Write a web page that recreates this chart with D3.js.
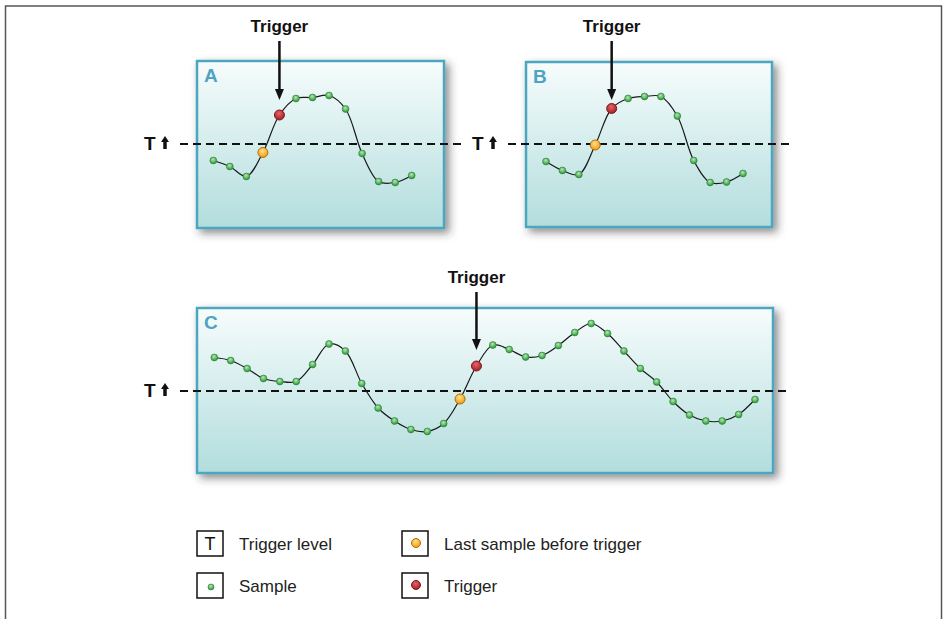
<!DOCTYPE html>
<html>
<head>
<meta charset="utf-8">
<script src="https://cdn.jsdelivr.net/npm/d3@7"></script>
<style>
  body { margin: 0; background: #fff; }
  svg { display: block; font-family: "Liberation Sans", Arial, sans-serif; }
</style>
</head>
<body>
<div id="chart"></div>
<script>
// sampled signal values (trigger level = 0), one value per sample
const samplesA = [-0.33, -0.45, -0.65, -0.17, 0.58, 0.91, 0.93, 0.97, 0.70, -0.19, -0.75, -0.77, -0.63];
const samplesB = [-0.35, -0.53, -0.61, -0.02, 0.71, 0.91, 0.95, 0.95, 0.56, -0.33, -0.77, -0.76, -0.59];
const samplesC = [0.67, 0.61, 0.45, 0.25, 0.19, 0.19, 0.53, 0.94, 0.80, 0.15, -0.34, -0.60, -0.77, -0.81,
                  -0.65, -0.16, 0.50, 0.92, 0.83, 0.68, 0.71, 0.91, 1.17, 1.35, 1.15, 0.80, 0.45, 0.18,
                  -0.21, -0.48, -0.60, -0.60, -0.47, -0.17];
// index of the last sample before trigger (next one is the trigger sample)
const lastBefore = {A: 3, B: 3, C: 15};
const triggerLevel = 0;
const legendItems = [
  {key: "level", label: "Trigger level"},
  {key: "last", label: "Last sample before trigger"},
  {key: "sample", label: "Sample"},
  {key: "trigger", label: "Trigger"}
];

// layout
const width = 944, height = 619;
const panels = [
  {name: "A", data: samplesA, box: [197, 61, 444, 228], first: 213.3, last: 411.7, trig: 144, line: [180, 462], textY: 32, arrow: [41, 100]},
  {name: "B", data: samplesB, box: [526, 62, 772, 227], first: 546, last: 743, trig: 144, line: [508, 790], textY: 32, arrow: [41, 100]},
  {name: "C", data: samplesC, box: [197, 308, 773, 473], first: 214.3, last: 755, trig: 391, line: [180, 790], textY: 283, arrow: [292, 350]}
];
const unitPx = 50;

const svg = d3.select("#chart").append("svg")
    .attr("width", width)
    .attr("height", height);

const defs = svg.append("defs");

const bg = defs.append("linearGradient").attr("id", "boxFill")
    .attr("x1", 0).attr("y1", 0).attr("x2", 0).attr("y2", 1);
bg.append("stop").attr("offset", "0%").attr("stop-color", "#f7fcfc");
bg.append("stop").attr("offset", "100%").attr("stop-color", "#b2dddd");

const shadow = defs.append("filter").attr("id", "shadow")
    .attr("x", "-10%").attr("y", "-10%").attr("width", "125%").attr("height", "130%");
shadow.append("feDropShadow")
    .attr("dx", 4).attr("dy", 4).attr("stdDeviation", 4)
    .attr("flood-color", "#333").attr("flood-opacity", 0.55);

function dotGradient(id, light, dark) {
  const g = defs.append("radialGradient").attr("id", id)
      .attr("cx", "45%").attr("cy", "35%").attr("r", "60%");
  g.append("stop").attr("offset", "0%").attr("stop-color", light);
  g.append("stop").attr("offset", "100%").attr("stop-color", dark);
}
dotGradient("gSample", "#b8e6b8", "#2f9a3c");
dotGradient("gTrigger", "#e5646a", "#a8222a");
dotGradient("gLast", "#ffe08a", "#f0a01c");

const dotStyle = {
  sample: {r: 3.4, fill: "url(#gSample)", stroke: "#2e8a38", sw: 0.7},
  trigger: {r: 5, fill: "url(#gTrigger)", stroke: "#7d1a1f", sw: 1},
  last: {r: 5, fill: "url(#gLast)", stroke: "#b56d00", sw: 1}
};

// outer frame
svg.append("rect")
    .attr("x", 5.5).attr("y", 6)
    .attr("width", 936).attr("height", 640)
    .attr("fill", "none")
    .attr("stroke", "#555")
    .attr("stroke-width", 1.5);

function arrowUp(g, x, yTop, yBottom, headW, headH, sw) {
  g.append("line")
      .attr("x1", x).attr("x2", x)
      .attr("y1", yTop + headH - 1).attr("y2", yBottom)
      .attr("stroke", "#111").attr("stroke-width", sw);
  g.append("path")
      .attr("d", `M${x - headW / 2},${yTop + headH} L${x},${yTop} L${x + headW / 2},${yTop + headH} Z`)
      .attr("fill", "#111");
}

panels.forEach(function(p) {
  const g = svg.append("g").attr("class", "panel");

  const xScale = d3.scaleLinear().domain([0, p.data.length - 1]).range([p.first, p.last]);
  const yScale = d3.scaleLinear().domain([-1, 1]).range([p.trig + unitPx, p.trig - unitPx]);

  // box
  g.append("rect")
      .attr("x", p.box[0]).attr("y", p.box[1])
      .attr("width", p.box[2] - p.box[0]).attr("height", p.box[3] - p.box[1])
      .attr("fill", "url(#boxFill)")
      .attr("stroke", "#4ea6c0")
      .attr("stroke-width", 2.5)
      .attr("filter", "url(#shadow)");

  g.append("text")
      .attr("x", p.box[0] + 7).attr("y", p.box[1] + 21)
      .attr("font-size", 19).attr("font-weight", "bold")
      .attr("fill", "#4ea3c2")
      .text(p.name);

  // trigger level
  const ty = yScale(triggerLevel);
  g.append("line")
      .attr("x1", p.line[0]).attr("x2", p.line[1])
      .attr("y1", ty).attr("y2", ty)
      .attr("stroke", "#111").attr("stroke-width", 2)
      .attr("stroke-dasharray", "8,5");

  const lx = p.line[0] - 36;
  g.append("text")
      .attr("x", lx).attr("y", ty + 6)
      .attr("font-size", 19).attr("font-weight", "bold")
      .attr("fill", "#111")
      .text("T");
  arrowUp(g, lx + 21, ty - 8, ty + 5, 8, 6, 3.5);

  // waveform
  const line = d3.line()
      .x(function(d, i) { return xScale(i); })
      .y(function(d) { return yScale(d); })
      .curve(d3.curveCatmullRom.alpha(0.5));

  g.append("path")
      .datum(p.data)
      .attr("d", line)
      .attr("fill", "none")
      .attr("stroke", "#1a1a1a")
      .attr("stroke-width", 1.2);

  const lb = lastBefore[p.name];
  g.selectAll(".dot").data(p.data).enter()
    .append("circle")
      .attr("class", "dot")
      .each(function(d, i) {
        const s = i === lb ? dotStyle.last : (i === lb + 1 ? dotStyle.trigger : dotStyle.sample);
        d3.select(this)
            .attr("r", s.r)
            .attr("fill", s.fill)
            .attr("stroke", s.stroke)
            .attr("stroke-width", s.sw);
      })
      .attr("cx", function(d, i) { return xScale(i); })
      .attr("cy", function(d) { return yScale(d); });

  // trigger arrow
  const ax = xScale(lb + 1);
  g.append("text")
      .attr("x", ax).attr("y", p.textY)
      .attr("text-anchor", "middle")
      .attr("font-size", 17).attr("font-weight", "bold")
      .attr("fill", "#111")
      .text("Trigger");
  g.append("line")
      .attr("x1", ax).attr("x2", ax)
      .attr("y1", p.arrow[0]).attr("y2", p.arrow[1] - 8)
      .attr("stroke", "#111").attr("stroke-width", 2.5);
  g.append("path")
      .attr("d", `M${ax - 4.5},${p.arrow[1] - 11} L${ax},${p.arrow[1]} L${ax + 4.5},${p.arrow[1] - 11} Z`)
      .attr("fill", "#111");
});

// legend
const legendPos = [
  {x: 197, y: 531}, {x: 402, y: 531},
  {x: 197, y: 573}, {x: 402, y: 573}
];
legendItems.forEach(function(item, i) {
  const pos = legendPos[i];
  const g = svg.append("g").attr("transform", `translate(${pos.x},${pos.y})`);
  g.append("rect")
      .attr("x", 0).attr("y", 0)
      .attr("width", 26).attr("height", 25)
      .attr("fill", "#fff")
      .attr("stroke", "#111").attr("stroke-width", 1.5);
  if (item.key === "level") {
    g.append("text")
        .attr("x", 13).attr("y", 19)
        .attr("text-anchor", "middle")
        .attr("font-size", 18)
        .attr("fill", "#111")
        .text("T");
  } else {
    const s = dotStyle[item.key];
    g.append("circle")
        .attr("cx", 14).attr("cy", item.key === "sample" ? 14 : 12)
        .attr("r", item.key === "sample" ? 3 : 4.5)
        .attr("fill", s.fill)
        .attr("stroke", s.stroke)
        .attr("stroke-width", s.sw);
  }
  g.append("text")
      .attr("x", 42).attr("y", 19)
      .attr("font-size", 17)
      .attr("fill", "#222")
      .text(item.label);
});
</script>
</body>
</html>
